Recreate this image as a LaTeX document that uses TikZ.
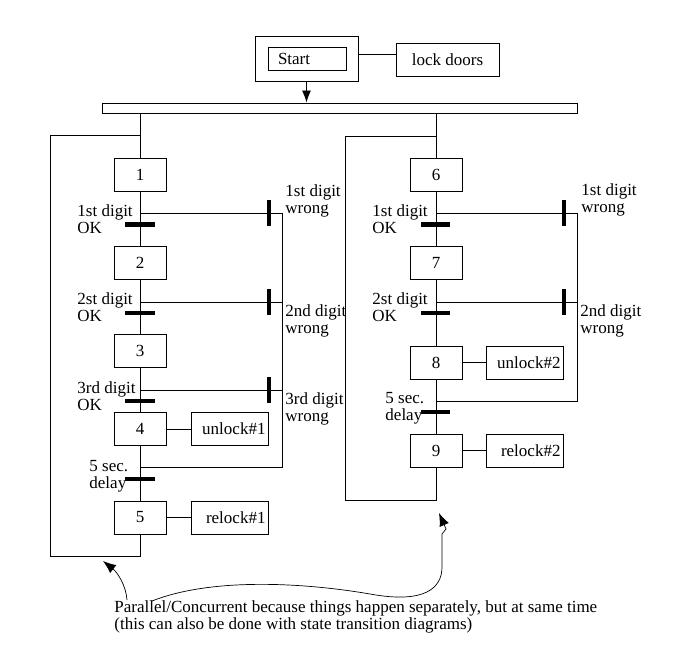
\documentclass[tikz,border=0pt]{standalone}
\usepackage{fontspec}
\setmainfont{Liberation Serif}
\usetikzlibrary{arrows.meta}
\begin{document}
\begin{tikzpicture}[x=1pt,y=-1pt, line width=0.9pt,
 font=\fontsize{17}{17}\selectfont,
 stepbox/.style={draw, minimum width=52pt, minimum height=33pt, inner sep=0pt},
 actbox/.style={draw, minimum height=33pt, text width=71pt, align=right, inner xsep=3pt, inner ysep=0pt},
 lbl/.style={inner sep=0pt, anchor=north west, align=left},
 tbar/.style={line width=4.5pt},
 vbar/.style={line width=4pt},
 tip/.style={-{Latex[length=12pt,width=9pt]}},
 note arrow/.style={line width=0.7pt, -{Latex[length=13pt,width=10pt]}}]
\useasboundingbox (0,0) rectangle (675,650);

% start
\node[draw, minimum width=103pt, minimum height=45pt, inner sep=0pt] (startout) at (306.5,58.5) {};
\node[draw, minimum height=23pt, text width=58pt, inner xsep=10pt, inner ysep=0pt, align=left] (start) at (307,58.5) {Start};
\node[draw, minimum width=103pt, minimum height=33pt, inner sep=0pt] (lock) at (447.5,59.5) {lock doors};
\draw (startout.east |- 0,54) -- (lock.west |- 0,54);
\node[draw, minimum width=475pt, minimum height=10pt, inner sep=0pt] (bar) at (339.5,108) {};
\draw[tip] (startout.south) -- (startout.south |- bar.north);

% left branch
\node[stepbox] (s1) at (140,174.5) {1};
\node[stepbox] (s2) at (140,263) {2};
\node[stepbox] (s3) at (140,351) {3};
\node[stepbox] (s4) at (140,429) {4};
\node[stepbox] (s5) at (140,517.5) {5};
\node[actbox] (u1) at (230,429) {unlock\#1};
\node[actbox] (r1) at (230,517.5) {relock\#1};
\draw (bar.south -| s1) -- (s1);
\draw (s1) -- (s2);
\draw (s2) -- (s3);
\draw (s3) -- (s4);
\draw (s4) -- (s5);
\draw (s4) -- (u1);
\draw (s5) -- (r1);
\coordinate (lj) at (140,135);
\coordinate (lc1) at (50,135);
\coordinate (lc2) at (50,556);
\coordinate (lc3) at (140,556);
\draw (s5) -- (lc3) -- (lc2) -- (lc1) -- (lj);
\coordinate (ja) at (140,213); \coordinate (wa) at (282,213);
\coordinate (jb) at (140,302); \coordinate (wb) at (282,302);
\coordinate (jc) at (140,390); \coordinate (wc) at (282,390);
\coordinate (jd) at (140,467); \coordinate (wd) at (282,467);
\draw (ja) -- (wa) -- (wd) -- (jd);
\draw (jb) -- (wb);
\draw (jc) -- (wc);
\draw[vbar] (269,200) -- (269,226);
\draw[vbar] (269,289) -- (269,315);
\draw[vbar] (269,377) -- (269,403);
\draw[tbar] (125,224.5) -- (155,224.5);
\draw[tbar] (125,313) -- (155,313);
\draw[tbar] (125,401) -- (155,401);
\draw[tbar] (125,479) -- (155,479);
\node[lbl] (la) at (77,204) {1st digit\\OK};
\node[lbl] (lb) at (77,292) {2st digit\\OK};
\node[lbl] (lcc) at (77,381) {3rd digit\\OK};
\node[lbl] (ld) at (89,460) {5 sec.\\delay};
\node[lbl] (wla) at (285,184) {1st digit\\wrong};
\node[lbl] (wlb) at (285,304) {2nd digit\\wrong};
\node[lbl] (wlc) at (285,392) {3rd digit\\wrong};

% right branch
\node[stepbox] (s6) at (436,174.5) {6};
\node[stepbox] (s7) at (436,263) {7};
\node[stepbox] (s8) at (436,362.5) {8};
\node[stepbox] (s9) at (436,450.5) {9};
\node[actbox] (u2) at (525,362.5) {unlock\#2};
\node[actbox] (r2) at (525,450.5) {relock\#2};
\draw (bar.south -| s6) -- (s6);
\draw (s6) -- (s7);
\draw (s7) -- (s8);
\draw (s8) -- (s9);
\draw (s8) -- (u2);
\draw (s9) -- (r2);
\coordinate (rj) at (436,136);
\coordinate (rc1) at (345,136);
\coordinate (rc2) at (345,500);
\coordinate (rc3) at (436,500);
\draw (s9) -- (rc3) -- (rc2) -- (rc1) -- (rj);
\coordinate (ka) at (436,213); \coordinate (va) at (577,213);
\coordinate (kb) at (436,302); \coordinate (vb) at (577,302);
\coordinate (kc) at (436,401); \coordinate (vc) at (577,401);
\draw (ka) -- (va) -- (vc) -- (kc);
\draw (kb) -- (vb);
\draw[vbar] (563.5,200) -- (563.5,226);
\draw[vbar] (563.5,289) -- (563.5,315);
\draw[tbar] (421,224.5) -- (450,224.5);
\draw[tbar] (421,313) -- (450,313);
\draw[tbar] (421,412) -- (450,412);
\node[lbl] (ra) at (372,204) {1st digit\\OK};
\node[lbl] (rb) at (372,292) {2st digit\\OK};
\node[lbl] (rd) at (385,392) {5 sec.\\delay};
\node[lbl] (wra) at (581,183) {1st digit\\wrong};
\node[lbl] (wrb) at (580,304) {2nd digit\\wrong};

% note
\node[lbl] (note) at (114,600) {Parallel/Concurrent because things happen separately, but at same time\\(this can also be done with state transition diagrams)};
\coordinate (ca) at (127,600);
\coordinate (cb) at (152,601);
\draw[note arrow] (ca) .. controls (126,585) and (117,572) .. (103,561);
\draw[note arrow] (cb) .. controls (210,578) and (300,582) .. (370,594)
  .. controls (425,604) and (442,588) .. (442,567) -- (442,534) -- (446,529) -- (439,513);
\end{tikzpicture}
\end{document}
